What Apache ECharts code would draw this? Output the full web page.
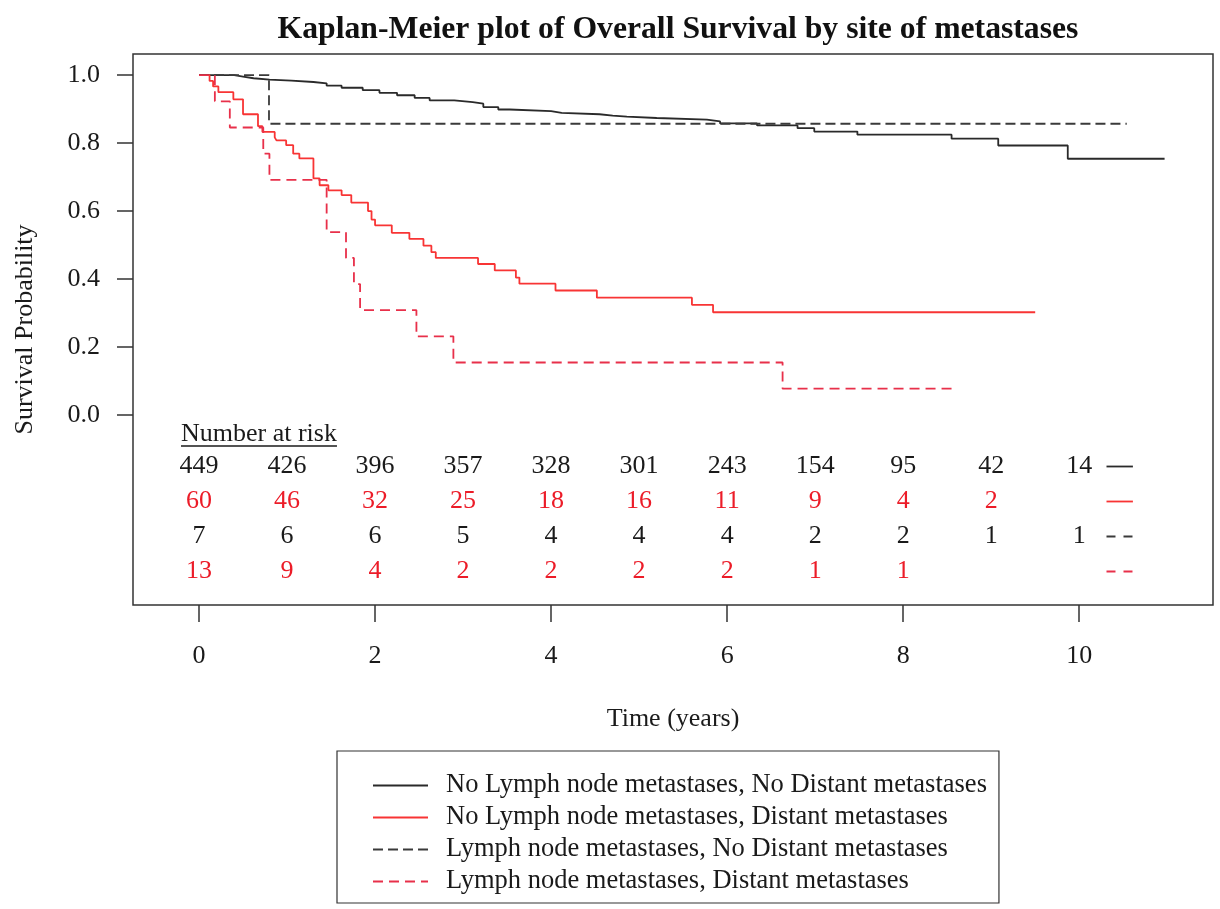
<!DOCTYPE html>
<html><head><meta charset="utf-8">
<script src="https://cdn.jsdelivr.net/npm/echarts@6/dist/echarts.min.js"></script>
<style>html,body{margin:0;padding:0;background:#fff}#c{width:1220px;height:909px}</style>
</head><body><div id="c"></div>
<script>
// ---- data ----
const seriesNames = [
  'No Lymph node metastases, No Distant metastases',
  'No Lymph node metastases, Distant metastases',
  'Lymph node metastases, No Distant metastases',
  'Lymph node metastases, Distant metastases'
];
// KM curve 1 (black solid)
const s1Time = [0,0.40,0.50,0.62,0.80,1.05,1.30,1.45,1.62,1.86,2.05,2.25,2.45,2.62,2.90,3.11,3.23,3.40,3.53,4.00,4.12,4.55,4.70,4.86,5.20,5.77,5.92,6.34,6.80,6.99,7.48,8.55,9.08,9.87,10.97];
const s1Surv = [1.0,0.996,0.991,0.987,0.984,0.980,0.976,0.969,0.963,0.956,0.948,0.941,0.933,0.926,0.921,0.916,0.906,0.899,0.894,0.889,0.885,0.881,0.878,0.874,0.869,0.864,0.858,0.852,0.844,0.834,0.825,0.813,0.793,0.754,0.754];
// KM curve 2 (red solid)
const s2Time = [0,0.12,0.16,0.22,0.39,0.50,0.67,0.72,0.86,0.88,0.99,1.07,1.14,1.30,1.37,1.47,1.62,1.73,1.92,1.96,2.00,2.19,2.39,2.55,2.64,2.69,3.17,3.36,3.60,3.64,4.05,4.52,5.60,5.84,9.50];
const s2Surv = [1.0,0.983,0.967,0.950,0.929,0.885,0.850,0.833,0.817,0.808,0.794,0.769,0.755,0.696,0.676,0.661,0.647,0.625,0.600,0.575,0.558,0.536,0.518,0.498,0.479,0.462,0.444,0.425,0.404,0.386,0.366,0.345,0.324,0.302,0.302];
// KM curve 3 (black dashed)
const s3Time = [0,0.795,10.54];
const s3Surv = [1.0,0.857,0.857];
// KM curve 4 (red dashed)
const s4Time = [0,0.18,0.35,0.73,0.80,1.45,1.67,1.76,1.83,2.47,2.89,6.63,8.58];
const s4Surv = [1.0,0.923,0.846,0.769,0.692,0.538,0.462,0.385,0.308,0.231,0.154,0.077,0.077];
// number at risk
const riskYears = [0,1,2,3,4,5,6,7,8,9,10];
const risk1 = [449,426,396,357,328,301,243,154,95,42,14];
const risk2 = [60,46,32,25,18,16,11,9,4,2,null];
const risk3 = [7,6,6,5,4,4,4,2,2,1,1];
const risk4 = [13,9,4,2,2,2,2,1,1,null,null];
const xTicks = [0,2,4,6,8,10];
const yTicks = [0,0.2,0.4,0.6,0.8,1.0];

// ---- styles ----
const FONT = 'Liberation Serif';
const BLACK = '#2a2a2a', RED = '#f83434', RED2 = '#e8304a', TXT = '#1a1a1a', TRED = '#ec1c28';
const styles = [
  {color: BLACK, type: 'solid'},
  {color: RED, type: 'solid'},
  {color: '#3a3a3a', type: [10, 5]},
  {color: RED2, type: [10, 6]}
];
const curves = [[s1Time,s1Surv],[s2Time,s2Surv],[s3Time,s3Surv],[s4Time,s4Surv]];
const risks = [risk1, risk2, risk3, risk4];
const riskColors = [TXT, TRED, TXT, TRED];
const rowKeys = ['r1','r2','r3','r4'];
const markerSpan = [10.31, 10.61];
const rowMarkerStyles = [
  {color: BLACK, type: 'solid'}, {color: RED, type: 'solid'},
  {color: '#3a3a3a', type: [9, 8]}, {color: RED2, type: [9, 8]}
];

const chart = echarts.init(document.getElementById('c'), null, {renderer: 'canvas'});

const series = [];
curves.forEach((c, i) => {
  series.push({
    name: seriesNames[i], type: 'line', step: 'end', symbol: 'none',
    xAxisIndex: 0, yAxisIndex: 0,
    data: c[0].map((t, j) => [t, c[1][j]]),
    lineStyle: {width: 1.8, color: styles[i].color, type: styles[i].type},
    itemStyle: {color: styles[i].color},
    animation: false, z: 3
  });
});
risks.forEach((r, i) => {
  series.push({
    name: 'risk' + i, type: 'scatter', xAxisIndex: 1, yAxisIndex: 1,
    symbolSize: 1, itemStyle: {color: 'rgba(0,0,0,0)', opacity: 1},
    data: riskYears.map((y, j) => r[j] == null ? null : [y, rowKeys[i], r[j]]).filter(d => d),
    label: {show: true, position: 'inside', formatter: p => String(p.value[2]),
      fontFamily: FONT, fontSize: 26, color: riskColors[i], opacity: 1, textBorderWidth: 0},
    animation: false, silent: true
  });
  series.push({
    name: 'marker' + i, type: 'line', xAxisIndex: 1, yAxisIndex: 1, symbol: 'none',
    data: markerSpan.map(x => [x, rowKeys[i]]),
    lineStyle: {width: 1.8, color: rowMarkerStyles[i].color, type: rowMarkerStyles[i].type},
    animation: false, silent: true
  });
});

// underline width for header
const cv = document.createElement('canvas').getContext('2d');
cv.font = '26px "' + FONT + '"';
const headerW = cv.measureText('Number at risk').width;

chart.setOption({
  backgroundColor: '#fff',
  animation: false,
  title: {
    text: 'Kaplan-Meier plot of Overall Survival by site of metastases',
    left: 673, top: 9, textAlign: 'center',
    textStyle: {fontFamily: FONT, fontWeight: 'bold', fontSize: 31.7, color: '#111'}
  },
  legend: {
    data: seriesNames, orient: 'vertical', left: 337, top: 751, height: 220,
    itemWidth: 55, itemHeight: 14, itemGap: 5, selectedMode: false,
    padding: [21, 12, 8, 35], borderColor: '#333', borderWidth: 1.2,
    itemStyle: {opacity: 0},
    textStyle: {fontFamily: FONT, fontSize: 26.5, color: TXT, lineHeight: 25, padding: [0,0,0,13]}
  },
  grid: [
    {left: 133, top: 54, right: 7, bottom: 304, show: true, borderColor: '#333', borderWidth: 1.5, backgroundColor: 'transparent', containLabel: false},
    {left: 133, top: 449, right: 7, height: 140, show: false}
  ],
  xAxis: [
    {type: 'value', gridIndex: 0, min: -0.75, max: 11.52,
      name: 'Time (years)', nameLocation: 'middle', nameGap: 101,
      nameTextStyle: {fontFamily: FONT, fontSize: 26, color: TXT},
      axisLine: {show: false, onZero: false}, splitLine: {show: false},
      axisTick: {show: true, inside: false, customValues: xTicks, length: 17, lineStyle: {color: '#333', width: 1.5}},
      axisLabel: {customValues: xTicks, margin: 38, fontFamily: FONT, fontSize: 26, color: TXT}},
    {type: 'value', gridIndex: 1, min: -0.75, max: 11.52, show: false}
  ],
  yAxis: [
    {type: 'value', gridIndex: 0, min: -0.56, max: 1.0624,
      name: 'Survival Probability', nameLocation: 'middle', nameGap: 95, nameRotate: 90,
      nameTextStyle: {fontFamily: FONT, fontSize: 26, color: TXT},
      axisLine: {show: false, onZero: false}, splitLine: {show: false},
      axisTick: {show: true, inside: false, customValues: yTicks, length: 16, lineStyle: {color: '#333', width: 1.5}},
      axisLabel: {customValues: yTicks, margin: 33, formatter: v => v.toFixed(1), fontFamily: FONT, fontSize: 26, color: TXT}},
    {type: 'category', gridIndex: 1, data: rowKeys, inverse: true, show: false}
  ],
  graphic: [
    {type: 'text', left: 181, top: 421, style: {text: 'Number at risk', font: '26px "' + FONT + '"', fill: TXT}},
    {type: 'line', shape: {x1: 181, y1: 446, x2: 181 + headerW, y2: 446}, style: {stroke: TXT, lineWidth: 1.3}}
  ],
  series: series
});
</script></body></html>
